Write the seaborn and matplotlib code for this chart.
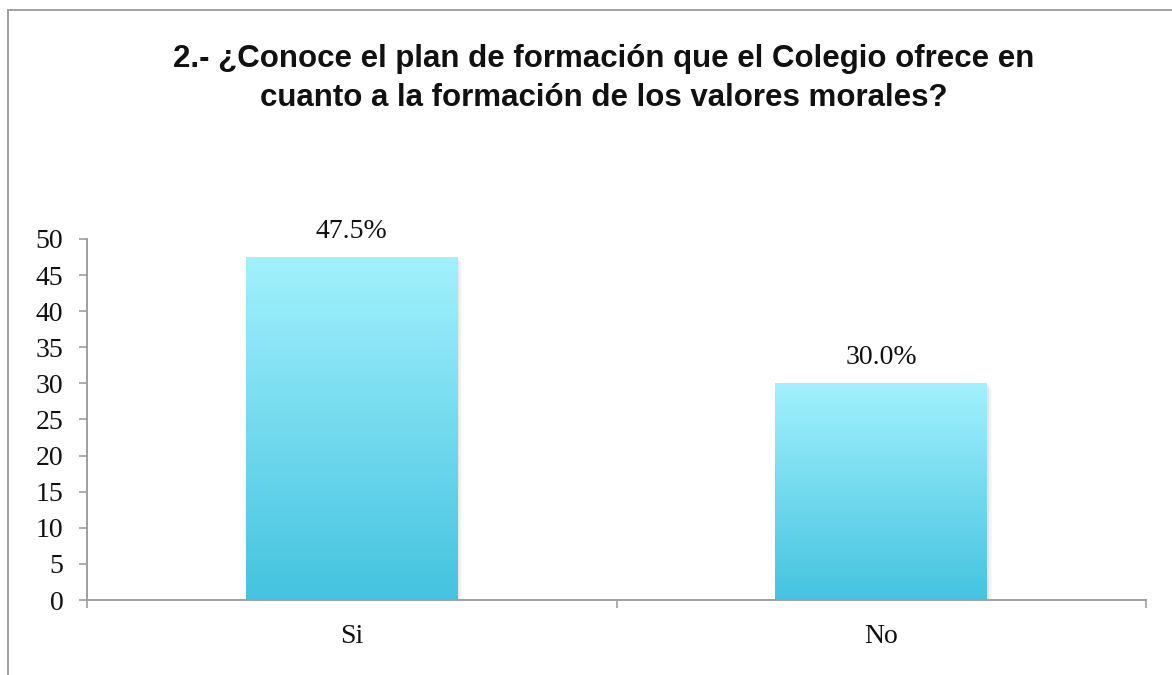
import matplotlib

matplotlib.use("Agg")

import matplotlib.pyplot as plt
import numpy as np
import pandas as pd
import seaborn as sns
from matplotlib.colors import LinearSegmentedColormap
from matplotlib.patches import Rectangle

categories = ["Si", "No"]
values = [47.5, 30.0]
labels = ["47.5%", "30.0%"]
y_ticks = [0, 5, 10, 15, 20, 25, 30, 35, 40, 45, 50]
title = "2.- ¿Conoce el plan de formación que el Colegio ofrece en\ncuanto a la formación de los valores morales?"

sns.set_theme(style="white")
plt.rcParams["font.family"] = ["Liberation Serif", "DejaVu Serif"]

df = pd.DataFrame({"respuesta": categories, "valor": values})

fig = plt.figure(figsize=(11.72, 6.75), dpi=100)
ax = fig.add_axes([0.0742, 0.1111, 0.9038, 0.5349])

sns.barplot(data=df, x="respuesta", y="valor", ax=ax, width=0.4, color="#7ADCEE")

ax.set_ylim(0, 50)
ax.set_xlim(-0.5, 1.5)
ax.set_yticks(y_ticks)
ax.set_xlabel("")
ax.set_ylabel("")

grey = "#A0A0A0"
for side in ["top", "right"]:
    ax.spines[side].set_visible(False)
for side in ["left", "bottom"]:
    ax.spines[side].set_color(grey)
    ax.spines[side].set_linewidth(1.4)

ax.tick_params(axis="y", which="major", direction="out", length=6, width=1.2,
               color=grey, labelsize=20, pad=11, left=True)
ax.tick_params(axis="x", which="major", length=0, labelsize=20, pad=17)
ax.set_xticks([-0.5, 0.5, 1.5], minor=True)
ax.tick_params(axis="x", which="minor", direction="out", length=6, width=1.2,
               color=grey, bottom=True)
for lbl in ax.get_yticklabels() + ax.get_xticklabels():
    lbl.set_color("#111111")

# gradient fill and soft shadow for each bar
cmap = LinearSegmentedColormap.from_list("cyan", ["#44C3E0", "#A2F1FD"])
grad = np.linspace(0, 1, 256).reshape(-1, 1)
for patch, lbl in zip(ax.patches, labels):
    x0, y0 = patch.get_x(), patch.get_y()
    w, h = patch.get_width(), patch.get_height()
    for k, a in enumerate([0.10, 0.07, 0.04]):
        shadow = Rectangle((x0 + 0.003 * (k + 1), y0), w, h - 0.25 * (k + 1),
                           facecolor="#808080", edgecolor="none", alpha=a, zorder=1.5)
        ax.add_patch(shadow)
    patch.set_facecolor("none")
    patch.set_edgecolor("none")
    im = ax.imshow(grad, cmap=cmap, origin="lower", aspect="auto",
                   extent=[x0, x0 + w, y0, y0 + h], zorder=2)
    clip = Rectangle((x0, y0), w, h, transform=ax.transData)
    im.set_clip_path(clip)
    ax.text(x0 + w / 2, y0 + h + 1.8, lbl, ha="center", va="bottom",
            fontsize=20, color="#111111")

ax.set_xlim(-0.5, 1.5)
ax.set_ylim(0, 50)

fig.text(0.515, 0.884, title, ha="center", va="center", fontsize=22.5,
         fontweight="bold", family=["Liberation Sans", "DejaVu Sans"],
         linespacing=1.4, color="#111111")

# chart area border
border = Rectangle((0.0068, -0.05), 1.2, 1.0352, transform=fig.transFigure,
                   fill=False, edgecolor=grey, linewidth=1.4)
fig.add_artist(border)

fig.savefig("out.png", dpi=100)
